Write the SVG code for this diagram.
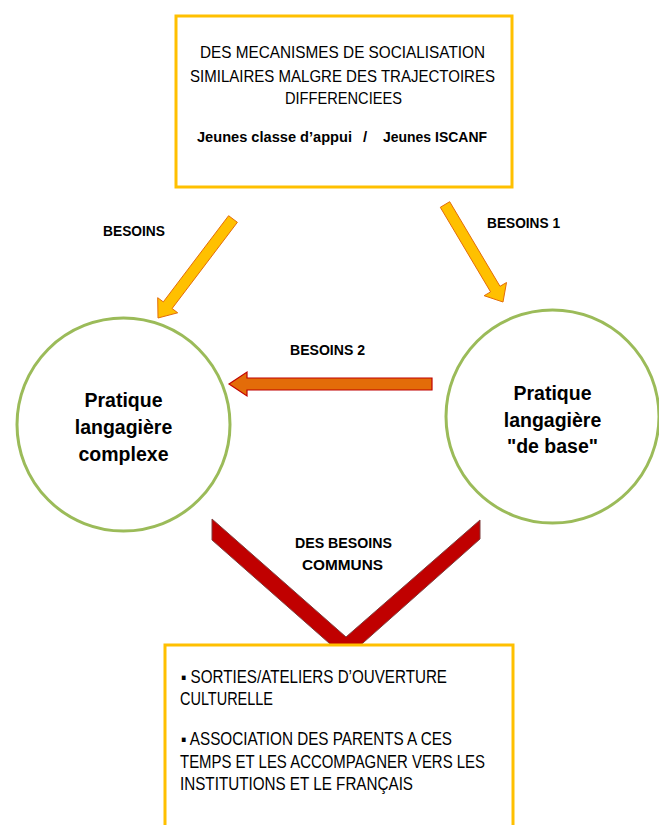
<svg xmlns="http://www.w3.org/2000/svg" width="659" height="825" viewBox="0 0 659 825">
<style>
.box{fill:#fff;stroke:#FFC000;stroke-width:3}
.circ{fill:#fff;stroke:#9BBB59;stroke-width:3}
.yarr{fill:#FFC000;stroke:#E36C09;stroke-width:1}
.oarr{fill:#E36C09;stroke:#C00000;stroke-width:1.2}
.varr{fill:#C00000;stroke:#7F3F3F;stroke-width:1}
text{font-family:"Liberation Sans","DejaVu Sans",sans-serif;fill:#000}
.t{font-size:17px}
.b{font-size:15px;font-weight:bold}
.c{font-size:19.5px;font-weight:bold;text-anchor:middle}
.l{font-size:14.5px;font-weight:bold}
.p{font-size:17.5px}
</style>
<rect width="659" height="825" fill="#fff"/>
<g id="connectors">
<polygon class="yarr" points="228.6,215.7 237.4,222.3 172.1,308.5 177.7,312.8 158,318 157.7,297.7 163.3,301.9"/>
<polygon class="yarr" points="440.3,207.3 449.7,201.7 500,286.3 506.5,282.5 503,302 484.1,295.7 490.6,291.9"/>
<polygon class="oarr" points="432,378 247,378 247,372 229,384 247,396 247,390 432,390"/>
<polygon class="varr" points="212,519 346,637 480,520 480,539 346,658 212,540"/>
<text class="l" x="103" y="236" textLength="62" lengthAdjust="spacingAndGlyphs">BESOINS</text>
<text class="l" x="487" y="228" textLength="73" lengthAdjust="spacingAndGlyphs">BESOINS 1</text>
<text class="l" x="290" y="355" textLength="75" lengthAdjust="spacingAndGlyphs">BESOINS 2</text>
<text class="l" x="295" y="548" textLength="97" lengthAdjust="spacingAndGlyphs">DES BESOINS</text>
<text class="l" x="302" y="570" textLength="81" lengthAdjust="spacingAndGlyphs">COMMUNS</text>
</g>
<g id="top-box">
<rect class="box" x="176" y="16" width="336" height="171"/>
<text class="t" x="200" y="58" textLength="285" lengthAdjust="spacingAndGlyphs">DES MECANISMES DE SOCIALISATION</text>
<text class="t" x="190" y="82" textLength="305" lengthAdjust="spacingAndGlyphs">SIMILAIRES MALGRE DES TRAJECTOIRES</text>
<text class="t" x="285" y="104" textLength="117" lengthAdjust="spacingAndGlyphs">DIFFERENCIEES</text>
<text class="b" x="197" y="142" textLength="155" lengthAdjust="spacingAndGlyphs">Jeunes classe d’appui</text>
<text class="b" x="363" y="142">/</text>
<text class="b" x="383" y="142" textLength="104" lengthAdjust="spacingAndGlyphs">Jeunes ISCANF</text>
</g>
<g id="circle-complexe">
<circle class="circ" cx="123.5" cy="424.5" r="106.5"/>
<text class="c" x="123.5" y="407">Pratique</text>
<text class="c" x="123.5" y="434">langagière</text>
<text class="c" x="123.5" y="461">complexe</text>
</g>
<g id="circle-base">
<circle class="circ" cx="552.5" cy="416.5" r="106.5"/>
<text class="c" x="552.5" y="400">Pratique</text>
<text class="c" x="552.5" y="427">langagière</text>
<text class="c" x="552.5" y="453">"de base"</text>
</g>
<g id="bottom-box">
<rect class="box" x="165" y="645" width="348" height="200"/>
<text class="p" x="181" y="683" textLength="266" lengthAdjust="spacingAndGlyphs">▪ SORTIES/ATELIERS D’OUVERTURE</text>
<text class="p" x="180" y="705" textLength="93" lengthAdjust="spacingAndGlyphs">CULTURELLE</text>
<text class="p" x="181" y="745" textLength="271" lengthAdjust="spacingAndGlyphs">▪ ASSOCIATION DES PARENTS A CES</text>
<text class="p" x="180" y="768" textLength="305" lengthAdjust="spacingAndGlyphs">TEMPS ET LES ACCOMPAGNER VERS LES</text>
<text class="p" x="180" y="790" textLength="233" lengthAdjust="spacingAndGlyphs">INSTITUTIONS ET LE FRANÇAIS</text>
</g>
</svg>
